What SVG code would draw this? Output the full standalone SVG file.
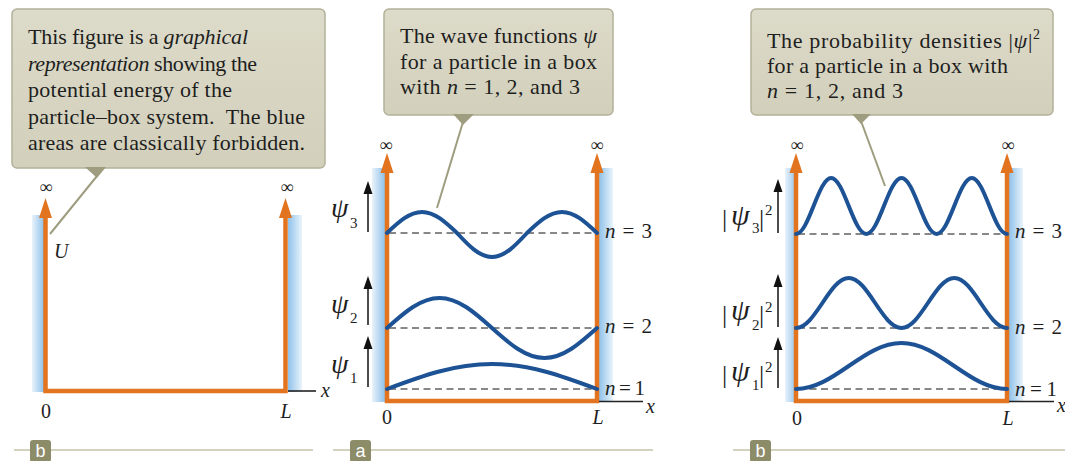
<svg xmlns="http://www.w3.org/2000/svg" width="1065" height="461" viewBox="0 0 1065 461">
<style>
.cbox{fill:url(#cg);stroke:#b3b199;stroke-width:1.5}
.ctext{font-family:"Liberation Serif",serif;font-size:22px;fill:#1e1e1e}
.it{font-style:italic}
.ptr{fill:#9f9d7f}
.pline{stroke:#9f9d7f;stroke-width:2;fill:none}
.or{stroke:#e2731f;stroke-width:4.5;fill:none;stroke-linejoin:miter}
.orh{fill:#e2731f}
.ax{stroke:#222;stroke-width:1.6}
.dash{stroke:#111;stroke-width:1;stroke-dasharray:7 4.5}
.wave{stroke:#1d5295;stroke-width:4;fill:none;stroke-linecap:round}
.lab{font-family:"Liberation Serif",serif;font-size:20px;fill:#1e1e1e}
.psi{font-family:"Liberation Serif",serif;font-size:28px;font-style:italic;fill:#1e1e1e}
.psi2{font-family:"Liberation Serif",serif;font-size:30px;font-style:italic;fill:#1e1e1e}
.inf{font-family:"Liberation Serif",serif;font-size:18px;fill:#222;text-anchor:middle}
.nlab{font-family:"Liberation Serif",serif;font-size:21px;fill:#1e1e1e}
.sm{font-family:"Liberation Serif",serif;font-size:15px;fill:#1e1e1e}
.bar{font-family:"Liberation Serif",serif;font-size:26px;fill:#1e1e1e}
.sa{stroke:#111;stroke-width:1.5}
.sah{fill:#111}
.rule{stroke:#c4c3a9;stroke-width:1.5}
.badge{fill:#8d8c69}
.btxt{font-family:"Liberation Sans",sans-serif;font-size:18px;fill:#fff;text-anchor:middle}
</style>
<defs>
<linearGradient id="cg" x1="0" y1="0" x2="0" y2="1">
<stop offset="0" stop-color="#dddbc9"/><stop offset="1" stop-color="#d2d0bb"/>
</linearGradient>
<linearGradient id="bl" x1="0" y1="0" x2="1" y2="0">
<stop offset="0" stop-color="#e9f3fb"/><stop offset="1" stop-color="#8fc1ea"/>
</linearGradient>
<linearGradient id="br" x1="0" y1="0" x2="1" y2="0">
<stop offset="0" stop-color="#8fc1ea"/><stop offset="1" stop-color="#eaf4fb"/>
</linearGradient>
</defs>
<rect width="1065" height="461" fill="#fff"/>

<!-- Panel 1 -->
<g id="panel1-axes">
<rect x="32" y="215" width="12" height="177" fill="url(#bl)"/>
<rect x="288" y="215" width="14" height="177" fill="url(#br)"/>
<path class="or" d="M45.5,216 V391 H285.5 V216"/>
<polygon class="orh" points="45.5,198 39,218 52,218"/>
<polygon class="orh" points="285.5,198 279,218 292,218"/>
<line class="ax" x1="288" y1="391" x2="316" y2="391"/>
<text class="inf" x="46" y="193">∞</text>
<text class="inf" x="287" y="193">∞</text>
<text class="lab it" x="54" y="258">U</text>
<text class="lab" x="46" y="418" text-anchor="middle">0</text>
<text class="lab it" x="286" y="418" text-anchor="middle">L</text>
<text class="lab it" x="321" y="397">x</text>
</g>
<g id="callout1">
<rect class="cbox" x="12" y="9" width="313" height="159" rx="5"/>
<polygon class="ptr" points="85,167 106,167 97,178"/>
<line class="pline" x1="97" y1="176" x2="50" y2="234"/>
<text class="ctext" x="28" y="44" textLength="220">This figure is a <tspan class="it">graphical</tspan></text>
<text class="ctext" x="28" y="71" textLength="229"><tspan class="it">representation</tspan> showing the</text>
<text class="ctext" x="28" y="97" textLength="204">potential energy of the</text>
<text class="ctext" x="28" y="124" textLength="277" style="white-space:pre">particle–box system.  The blue</text>
<text class="ctext" x="28" y="150" textLength="277">areas are classically forbidden.</text>
</g>
<g id="label-b1">
<line class="rule" x1="14" y1="450" x2="313" y2="450"/>
<rect class="badge" x="30" y="440" width="21" height="22" rx="3"/>
<text class="btxt" x="40.5" y="457">b</text>
</g>

<!-- Panel 2 -->
<g id="panel2-axes">
<rect x="372" y="168" width="13" height="234" fill="url(#bl)"/>
<rect x="599" y="168" width="14" height="234" fill="url(#br)"/>
<line class="dash" x1="389" y1="233" x2="595" y2="233"/>
<line class="dash" x1="389" y1="328" x2="595" y2="328"/>
<line class="dash" x1="389" y1="389" x2="595" y2="389"/>
<path class="or" d="M387,172 V401 H597 V172"/>
<polygon class="orh" points="387,153 380.5,173 393.5,173"/>
<polygon class="orh" points="597,153 590.5,173 603.5,173"/>
<line class="ax" x1="599" y1="401.5" x2="643" y2="401.5"/>
<text class="inf" x="386" y="151">∞</text>
<text class="inf" x="597" y="151">∞</text>
<text class="lab" x="387" y="424" text-anchor="middle">0</text>
<text class="lab it" x="598" y="424" text-anchor="middle">L</text>
<text class="lab it" x="646" y="413">x</text>
<text class="nlab" x="605" y="238" textLength="47"><tspan class="it">n</tspan> = 3</text>
<text class="nlab" x="605" y="333" textLength="47"><tspan class="it">n</tspan> = 2</text>
<text class="nlab" x="605" y="395" textLength="40"><tspan class="it">n</tspan> = 1</text>
</g>
<g id="psi-waves">
<path class="wave" d="M387,233 c11.41,-10.75 22.33,-21 35,-21 c12.67,0 23.59,10.25 35,21 c11.41,12.29 22.33,24 35,24 c12.67,0 23.59,-11.71 35,-24 c11.41,-10.75 22.33,-21 35,-21 c12.67,0 23.59,10.25 35,21"/>
<path class="wave" d="M387,328 c17.12,-15.36 33.5,-30 52.5,-30 c19,0 35.39,14.64 52.5,30 c17.12,15.36 33.5,30 52.5,30 c19,0 35.39,-14.64 52.5,-30"/>
<path class="wave" d="M387,389 c34.23,-12.8 66.99,-25 105,-25 c38.01,0 70.77,12.2 105,25"/>
</g>
<g id="psi-labels">
<line class="sa" x1="368" y1="232" x2="368" y2="192"/>
<polygon class="sah" points="368,181 363.5,194 372.5,194"/>
<line class="sa" x1="368" y1="325" x2="368" y2="287"/>
<polygon class="sah" points="368,276 363.5,289 372.5,289"/>
<line class="sa" x1="368" y1="387" x2="368" y2="347"/>
<polygon class="sah" points="368,336 363.5,349 372.5,349"/>
<text class="psi" x="331" y="217">ψ</text><text class="sm" x="350" y="228">3</text>
<text class="psi" x="331" y="313">ψ</text><text class="sm" x="350" y="323">2</text>
<text class="psi" x="331" y="373">ψ</text><text class="sm" x="350" y="383">1</text>
</g>
<g id="callout2">
<rect class="cbox" x="384" y="9" width="229" height="106" rx="5"/>
<polygon class="ptr" points="453,114 474,114 463,125"/>
<line class="pline" x1="463" y1="122" x2="437" y2="208"/>
<text class="ctext" x="400" y="43" textLength="197">The wave functions <tspan class="it">ψ</tspan></text>
<text class="ctext" x="400" y="68.5" textLength="197">for a particle in a box</text>
<text class="ctext" x="400" y="94" textLength="180">with <tspan class="it">n</tspan> = 1, 2, and 3</text>
</g>
<g id="label-a">
<line class="rule" x1="333" y1="450" x2="653" y2="450"/>
<rect class="badge" x="350" y="440" width="21" height="22" rx="3"/>
<text class="btxt" x="360.5" y="457">a</text>
</g>

<!-- Panel 3 -->
<g id="panel3-axes">
<rect x="785" y="168" width="12" height="234" fill="url(#bl)"/>
<rect x="1009" y="168" width="14" height="234" fill="url(#br)"/>
<line class="dash" x1="798" y1="234" x2="1005" y2="234"/>
<line class="dash" x1="798" y1="328" x2="1005" y2="328"/>
<line class="dash" x1="798" y1="389" x2="1005" y2="389"/>
<path class="or" d="M796,172 V401 H1007 V172"/>
<polygon class="orh" points="796,153 789.5,173 802.5,173"/>
<polygon class="orh" points="1007,153 1000.5,173 1013.5,173"/>
<line class="ax" x1="1009" y1="401.5" x2="1054" y2="401.5"/>
<text class="inf" x="797" y="151">∞</text>
<text class="inf" x="1008" y="151">∞</text>
<text class="lab" x="797" y="425" text-anchor="middle">0</text>
<text class="lab it" x="1008" y="425" text-anchor="middle">L</text>
<text class="lab it" x="1057" y="412">x</text>
<text class="nlab" x="1015" y="238" textLength="47"><tspan class="it">n</tspan> = 3</text>
<text class="nlab" x="1015" y="334" textLength="47"><tspan class="it">n</tspan> = 2</text>
<text class="nlab" x="1015" y="396" textLength="42"><tspan class="it">n</tspan> = 1</text>
</g>
<g id="density-waves">
<path class="wave" d="M796,234 c6.37,0 11.85,-13.66 17.58,-28 c5.73,-14.34 11.22,-28 17.58,-28 c6.37,0 11.85,13.66 17.58,28 c5.73,14.34 11.22,28 17.58,28 c6.37,0 11.85,-13.66 17.58,-28 c5.73,-14.34 11.22,-28 17.58,-28 c6.37,0 11.85,13.66 17.58,28 c5.73,14.34 11.22,28 17.58,28 c6.37,0 11.85,-13.66 17.58,-28 c5.73,-14.34 11.22,-28 17.58,-28 c6.37,0 11.85,13.66 17.58,28 c5.73,14.34 11.22,28 17.58,28"/>
<path class="wave" d="M796,328 c9.55,0 17.78,-12.2 26.38,-25 c8.6,-12.8 16.83,-25 26.38,-25 c9.55,0 17.78,12.2 26.38,25 c8.6,12.8 16.83,25 26.38,25 c9.55,0 17.78,-12.2 26.38,-25 c8.6,-12.8 16.83,-25 26.38,-25 c9.55,0 17.78,12.2 26.38,25 c8.6,12.8 16.83,25 26.38,25"/>
<path class="wave" d="M796,389 c19.1,0 35.55,-11.22 52.75,-23 c17.2,-11.78 33.65,-23 52.75,-23 c19.1,0 35.55,11.22 52.75,23 c17.2,11.78 33.65,23 52.75,23"/>
</g>
<g id="density-labels">
<line class="sa" x1="778" y1="233" x2="778" y2="190"/>
<polygon class="sah" points="778,179 773.5,192 782.5,192"/>
<line class="sa" x1="778" y1="327" x2="778" y2="285"/>
<polygon class="sah" points="778,274 773.5,287 782.5,287"/>
<line class="sa" x1="778" y1="388" x2="778" y2="348"/>
<polygon class="sah" points="778,337 773.5,350 782.5,350"/>
<text class="bar" x="722" y="227">|</text><text class="psi2" x="731" y="225">ψ</text><text class="sm" x="752" y="233">3</text><text class="bar" x="759" y="227">|</text><text class="sm" x="765" y="215">2</text>
<text class="bar" x="722" y="323">|</text><text class="psi2" x="731" y="320">ψ</text><text class="sm" x="752" y="330">2</text><text class="bar" x="759" y="323">|</text><text class="sm" x="765" y="312">2</text>
<text class="bar" x="722" y="383">|</text><text class="psi2" x="731" y="381">ψ</text><text class="sm" x="752" y="390">1</text><text class="bar" x="759" y="383">|</text><text class="sm" x="765" y="372">2</text>
</g>
<g id="callout3">
<rect class="cbox" x="751" y="9" width="302" height="106" rx="5"/>
<polygon class="ptr" points="852,114 871,114 861,124"/>
<line class="pline" x1="861" y1="121" x2="885" y2="186"/>
<text class="ctext" x="767" y="47.5" textLength="273">The probability densities |<tspan class="it">ψ</tspan>|<tspan font-size="14" dy="-9">2</tspan></text>
<text class="ctext" x="767" y="73" textLength="241">for a particle in a box with</text>
<text class="ctext" x="767" y="98" textLength="136"><tspan class="it">n</tspan> = 1, 2, and 3</text>
</g>
<g id="label-b2">
<line class="rule" x1="733" y1="450" x2="1065" y2="450"/>
<rect class="badge" x="750" y="440" width="21" height="22" rx="3"/>
<text class="btxt" x="760.5" y="457">b</text>
</g>
</svg>
